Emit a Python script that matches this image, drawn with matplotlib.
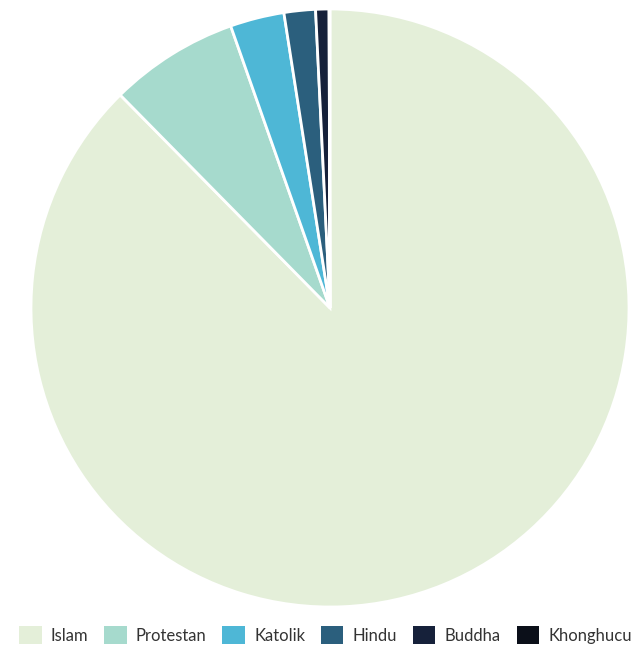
import matplotlib.pyplot as plt
from matplotlib.patches import Patch

# data (sensus 2010)
labels = ["Islam", "Protestan", "Katolik", "Hindu", "Buddha", "Khonghucu"]
values = [207176162, 16528513, 6907873, 4012116, 1703254, 117091]
colors = ["#e4efd9", "#a6dacd", "#4eb7d6", "#2b5f7d", "#16213a", "#0b0f19"]

plt.rcParams["font.family"] = ["Lato", "DejaVu Sans"]

fig = plt.figure(figsize=(6.31, 6.47), dpi=100)
ax = fig.add_axes([31 / 631, 40 / 647, 598 / 631, 598 / 647])

ax.pie(
    values,
    colors=colors,
    startangle=90,
    counterclock=False,
    wedgeprops=dict(edgecolor="white", linewidth=2),
)
ax.set_xlim(-1, 1)
ax.set_ylim(-1, 1)
ax.set_aspect("equal")
ax.axis("off")

handles = [Patch(facecolor=c, edgecolor="none") for c in colors]
fig.legend(
    handles, labels,
    loc="center", bbox_to_anchor=(0.5 + 10 / 631, 1 - 635 / 647),
    ncol=6, frameon=False, fontsize=12,
    handlelength=1.35, handleheight=1.35,
    handletextpad=0.55, columnspacing=0.95,
    borderpad=0, borderaxespad=0,
    labelcolor="#333333",
)

fig.savefig("out.png", dpi=100, facecolor="white")
